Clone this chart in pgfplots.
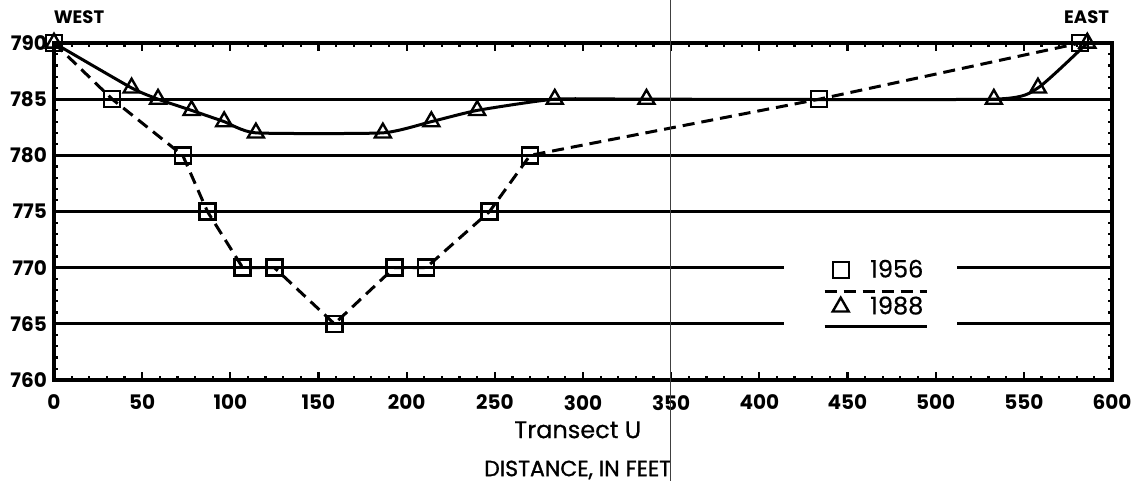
\documentclass[border=0pt]{standalone}
\usepackage{fontspec}
\setmainfont{Poppins}
\newfontfamily\medfont{Poppins}[FakeBold=1.2]
\newfontfamily\lightmedfont{Poppins}[FakeBold=0.6]
\usepackage{pgfplots}
\pgfplotsset{compat=1.18}

% Survey elevations along transect U
\pgfplotstableread{
x y
0 790
33 785
73 780
87 775
107 770
125 770
159 765
193 770
211 770
247 775
270 780
434 785
582 790
}\surveyA

\pgfplotstableread{
x y
0 790
44 786
59 785
78 784
96.5 783
114.5 782
186.5 782
214 783
240 784
284 785
336 785
533 785
558 786
586 790
}\surveyB

\begin{document}
\begin{tikzpicture}
\useasboundingbox (-27pt,-53pt) rectangle (543pt,190pt);
\begin{axis}[
  at={(0,0)}, anchor=south west,
  scale only axis, width=529pt, height=168.5pt,
  xmin=0, xmax=600, ymin=760, ymax=790,
  xtick={0,50,...,600}, ytick={760,765,...,790},
  minor x tick num=4, minor y tick num=4,
  tick align=inside,
  major tick length=4pt, minor tick length=2pt,
  axis line style={line width=1.8pt},
  tick style={black, line width=1.1pt},
  ymajorgrids, major grid style={black, line width=1.5pt},
  clip=false,
  /pgf/number format/assume math mode=true,
  ticklabel style={font=\bfseries\fontsize{10}{12}\selectfont},
  xticklabel style={yshift=-4pt},
  xlabel={Transect U},
  xlabel style={at={(axis description cs:0.495,-0.148)}, anchor=center,
    font=\lightmedfont\fontsize{12}{14}\selectfont},
  legend style={at={(axis description cs:0.772,0.2715)}, anchor=center,
    draw=none, fill=white, inner xsep=15pt, inner ysep=8pt,
    row sep=4pt, font=\lightmedfont\fontsize{12}{14}\selectfont},
  legend cell align=left,
]
\addplot[black, line width=1.5pt, dash pattern=on 6pt off 3.5pt,
  mark=square, mark size=4pt, mark options={solid, line width=1.2pt},
  legend image code/.code={
    \draw[mark=square, mark size=4pt, mark options={solid, line width=1.2pt}]
      plot coordinates {(4pt,0pt)};
    \path (-8.5pt,0pt) (16pt,0pt);
    \draw[overlay, black, line width=1.5pt, dash pattern=on 6pt off 3.5pt]
      (-4pt,-10.5pt) -- (47pt,-10.5pt);
  }] table[x=x, y=y] {\surveyA};
\addplot[black, line width=1.5pt, smooth, tension=0.3,
  mark=triangle, mark size=4.6pt, mark options={solid, line width=1.2pt},
  legend image code/.code={
    \draw[mark=triangle, mark size=4.6pt, mark options={solid, line width=1.2pt}]
      plot coordinates {(4pt,0pt)};
    \path (-8.5pt,0pt) (16pt,0pt);
    \draw[overlay, black, line width=1.5pt, solid]
      (-4pt,-10pt) -- (47pt,-10pt);
  }] table[x=x, y=y] {\surveyB};
\legend{1956,1988}

\node[font=\medfont\fontsize{11}{13}\selectfont] at (axis description cs:0.495,-0.267) {DISTANCE, IN FEET};
\node[font=\bfseries\fontsize{9}{10}\selectfont] at (axis description cs:0.0236,1.077) {WEST};
\node[font=\bfseries\fontsize{9}{10}\selectfont] at (axis description cs:0.976,1.077) {EAST};
\draw[black!75, line width=0.5pt] (axis description cs:0.583,1.128) -- (axis description cs:0.583,-0.3);
\end{axis}
\end{tikzpicture}
\end{document}
